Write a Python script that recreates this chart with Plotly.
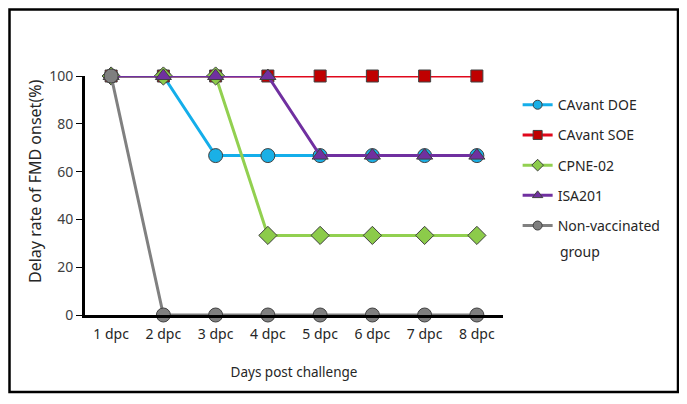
import plotly.graph_objects as go

days = ["1 dpc", "2 dpc", "3 dpc", "4 dpc", "5 dpc", "6 dpc", "7 dpc", "8 dpc"]
cavant_doe = [100, 100, 66.7, 66.7, 66.7, 66.7, 66.7, 66.7]
cavant_soe = [100, 100, 100, 100, 100, 100, 100, 100]
cpne_02 = [100, 100, 100, 33.3, 33.3, 33.3, 33.3, 33.3]
isa201 = [100, 100, 100, 100, 66.7, 66.7, 66.7, 66.7]
non_vacc = [100, 0, 0, 0, 0, 0, 0, 0]

series = [
    ("CAvant DOE", cavant_doe, "#14AEEA", "#1AB0E6", "circle", 14),
    ("CAvant SOE", cavant_soe, "#E0081C", "#C00000", "square", 12),
    ("CPNE-02", cpne_02, "#92D050", "#8CCB4A", "diamond", 14),
    ("ISA201", isa201, "#7030A0", "#7030A0", "triangle-up", 14),
    ("Non-vaccinated", non_vacc, "#808080", "#7F7F7F", "circle", 14),
]

fig = go.Figure()
for i, (name, vals, lc, mc, sym, sz) in enumerate(series):
    fig.add_trace(go.Scatter(
        x=days, y=vals, name=name, mode="lines+markers", showlegend=False,
        line=dict(color=lc, width=3),
        marker=dict(symbol=sym, size=sz, color=mc, line=dict(color="#404040", width=1)),
        cliponaxis=False,
    ))
for i, (name, vals, lc, mc, sym, sz) in enumerate(series):
    fig.add_trace(go.Scatter(
        x=[None], y=[None], name=name, mode="lines+markers", showlegend=True,
        legendgroup=f"g{i}",
        line=dict(color=lc, width=3),
        marker=dict(symbol=sym, size=9, color=mc, line=dict(color="#404040", width=1)),
    ))

W, H = 671, 388
L, R, T, B = 77, 176, 68, 81
pw, ph = W - L - R, H - T - B

fig.update_layout(
    width=W, height=H,
    margin=dict(l=L, r=R, t=T, b=B),
    paper_bgcolor="white", plot_bgcolor="white",
    font=dict(family="Noto Sans, Open Sans, sans-serif", size=14, color="#262626"),
    showlegend=True,
    legend=dict(x=1.035, y=0.945, xanchor="left", yanchor="top",
                font=dict(size=14), tracegroupgap=9, bgcolor="rgba(0,0,0,0)"),
    xaxis=dict(
        type="category", range=[-0.5, 7.5], showgrid=False,
        showline=True, linecolor="black", linewidth=3,
        ticks="", tickfont=dict(size=14, color="#262626"), ticklabelstandoff=4,
        title=dict(text="Days post challenge", font=dict(size=13.5), standoff=26),
        zeroline=False,
    ),
    yaxis=dict(
        range=[0, 100], tickvals=[0, 20, 40, 60, 80, 100], showgrid=False,
        showline=True, linecolor="black", linewidth=3,
        ticks="outside", ticklen=6, tickcolor="black", tickwidth=1,
        tickfont=dict(size=14, color="#404040"),
        zeroline=False,
    ),
    annotations=[
        dict(text="Delay rate of FMD onset(%)", textangle=-90, showarrow=False,
             xref="paper", yref="paper", x=(27 - L) / pw, y=(H - B - 174) / ph,
             xanchor="center", yanchor="middle", font=dict(size=16, color="#262626")),
        dict(text="group", showarrow=False, xref="paper", yref="paper",
             x=(550 - L) / pw, y=(H - B - 244) / ph, xanchor="left", yanchor="middle",
             font=dict(size=14, color="#262626")),
    ],
    shapes=[dict(type="rect", xref="paper", yref="paper",
                 x0=(1.5 - L) / pw, x1=(670 - L) / pw,
                 y0=(H - B - 384) / ph, y1=(H - B - 1.5) / ph,
                 line=dict(color="black", width=2.5), layer="below")],
)

fig.write_html("out.html")
